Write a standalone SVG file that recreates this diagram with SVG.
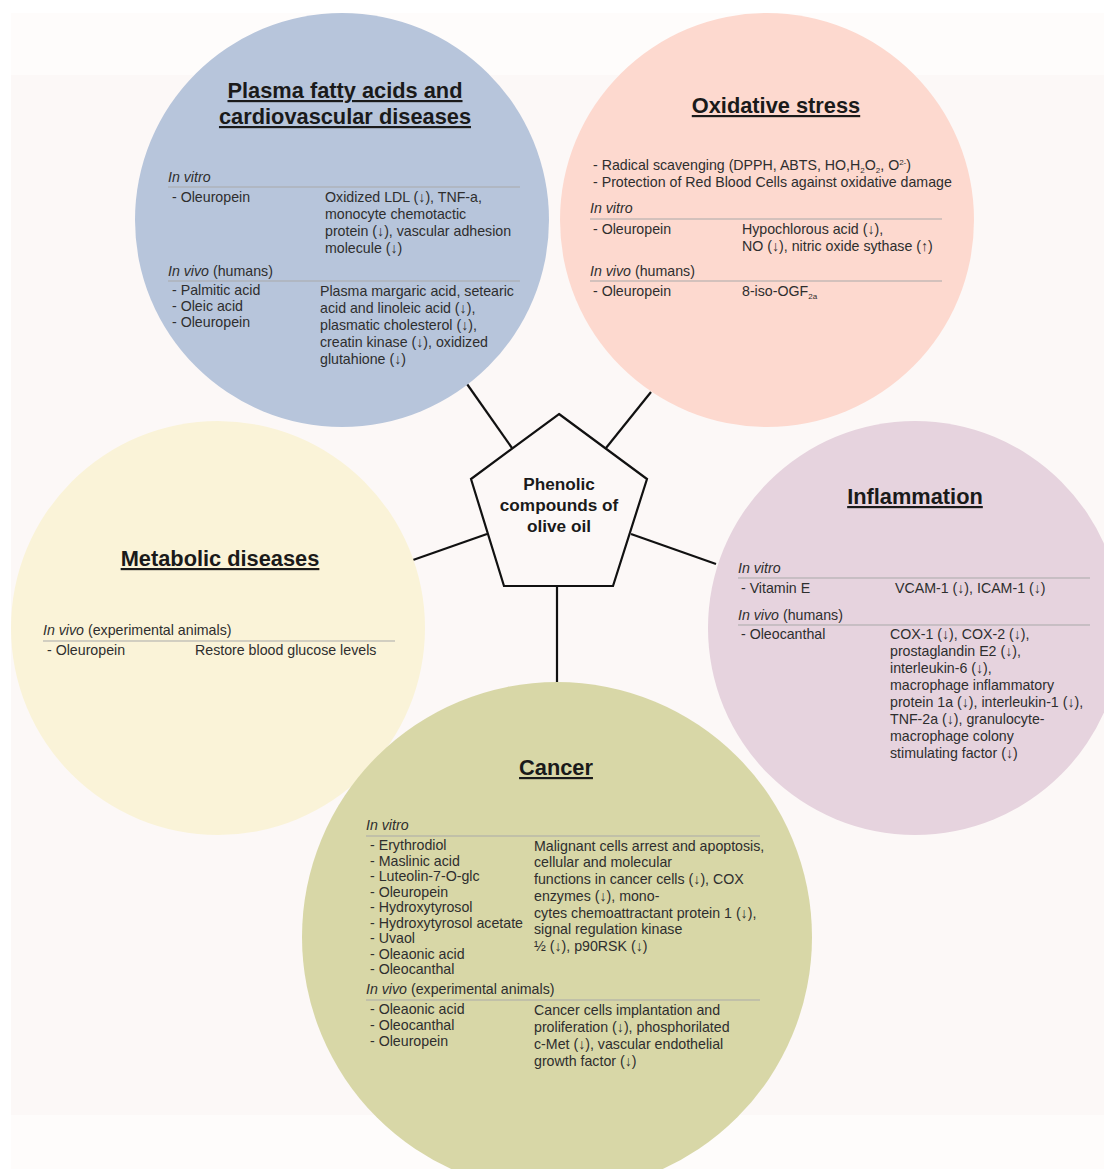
<svg xmlns="http://www.w3.org/2000/svg" width="1104" height="1169" viewBox="0 0 1104 1169">
<style>
text{font-family:"Liberation Sans",Arial,sans-serif;fill:#2e2e2e;font-size:14.2px}
.t{font-weight:bold;font-size:21.8px;fill:#1a1a1a;text-anchor:middle;text-decoration:underline}
.c{font-weight:bold;font-size:17.2px;fill:#1a1a1a;text-anchor:middle}
.i{font-style:italic}
.sep{stroke:#a9a9a9;stroke-width:1}
.con{stroke:#111;stroke-width:2.2;fill:none}
.sub{font-size:8px}
</style>
<rect x="0" y="0" width="1104" height="1169" fill="#ffffff"/>
<rect x="11" y="13" width="1093" height="1156" fill="#fefcfb"/>
<rect x="11" y="75" width="1093" height="1040" fill="#fcf8f7"/>

<g id="connectors">
<line class="con" x1="467" y1="384" x2="512" y2="448"/>
<line class="con" x1="651" y1="392" x2="606" y2="448"/>
<line class="con" x1="413" y1="560" x2="487" y2="534"/>
<line class="con" x1="631" y1="534" x2="716" y2="564"/>
<line class="con" x1="557" y1="586" x2="557" y2="682"/>
</g>

<g id="plasma">
<circle cx="342" cy="220" r="207" fill="#b7c5db"/>
<text class="t" x="345" y="98">Plasma fatty acids and</text>
<text class="t" x="345" y="124">cardiovascular diseases</text>
<text class="i" x="168" y="182">In vitro</text>
<line class="sep" x1="168" y1="187" x2="520" y2="187"/>
<text x="172" y="202">- Oleuropein</text>
<text x="325" y="202">Oxidized LDL (↓), TNF-a,</text>
<text x="325" y="219">monocyte chemotactic</text>
<text x="325" y="236">protein (↓), vascular adhesion</text>
<text x="325" y="253">molecule (↓)</text>
<text x="168" y="276"><tspan class="i">In vivo</tspan> (humans)</text>
<line class="sep" x1="168" y1="281" x2="520" y2="281"/>
<text x="172" y="295">- Palmitic acid</text>
<text x="172" y="311">- Oleic acid</text>
<text x="172" y="327">- Oleuropein</text>
<text x="320" y="296">Plasma margaric acid,  setearic</text>
<text x="320" y="313">acid and linoleic acid (↓),</text>
<text x="320" y="330">plasmatic cholesterol (↓),</text>
<text x="320" y="347">creatin kinase (↓), oxidized</text>
<text x="320" y="364">glutahione (↓)</text>
</g>

<g id="oxidative">
<circle cx="767" cy="220" r="207" fill="#fdd9cf"/>
<text class="t" x="776" y="113">Oxidative stress</text>
<text x="593" y="170">- Radical scavenging (DPPH, ABTS, HO,H<tspan class="sub" dy="3">2</tspan><tspan dy="-3">O</tspan><tspan class="sub" dy="3">2</tspan><tspan dy="-3">, O</tspan><tspan class="sub" dy="-5">2-</tspan><tspan dy="5">)</tspan></text>
<text x="593" y="187">- Protection of Red Blood Cells against oxidative damage</text>
<text class="i" x="590" y="213">In vitro</text>
<line class="sep" x1="590" y1="219" x2="942" y2="219"/>
<text x="593" y="234">- Oleuropein</text>
<text x="742" y="234">Hypochlorous acid (↓),</text>
<text x="742" y="251">NO (↓),  nitric oxide sythase (↑)</text>
<text x="590" y="276"><tspan class="i">In vivo</tspan> (humans)</text>
<line class="sep" x1="590" y1="281" x2="942" y2="281"/>
<text x="593" y="296">- Oleuropein</text>
<text x="742" y="296">8-iso-OGF<tspan class="sub" dy="3">2a</tspan></text>
</g>

<g id="metabolic">
<circle cx="218" cy="628" r="207" fill="#faf3d8"/>
<text class="t" x="220" y="566">Metabolic diseases</text>
<text x="43" y="635"><tspan class="i">In vivo</tspan> (experimental animals)</text>
<line class="sep" x1="43" y1="641" x2="395" y2="641"/>
<text x="47" y="655">- Oleuropein</text>
<text x="195" y="655">Restore blood glucose levels</text>
</g>

<g id="inflammation">
<circle cx="915" cy="628" r="207" fill="#e6d3de"/>
<text class="t" x="915" y="504">Inflammation</text>
<text class="i" x="738" y="573">In vitro</text>
<line class="sep" x1="738" y1="578" x2="1090" y2="578"/>
<text x="741" y="593">- Vitamin E</text>
<text x="895" y="593">VCAM-1 (↓), ICAM-1 (↓)</text>
<text x="738" y="620"><tspan class="i">In vivo</tspan> (humans)</text>
<line class="sep" x1="738" y1="625" x2="1090" y2="625"/>
<text x="741" y="639">- Oleocanthal</text>
<text x="890" y="639">COX-1 (↓), COX-2 (↓),</text>
<text x="890" y="656">prostaglandin E2 (↓),</text>
<text x="890" y="673">interleukin-6 (↓),</text>
<text x="890" y="690">macrophage inflammatory</text>
<text x="890" y="707">protein 1a (↓), interleukin-1 (↓),</text>
<text x="890" y="724">TNF-2a (↓), granulocyte-</text>
<text x="890" y="741">macrophage colony</text>
<text x="890" y="758">stimulating factor (↓)</text>
</g>

<g id="cancer">
<circle cx="557" cy="937" r="255" fill="#d8d7a7"/>
<text class="t" x="556" y="775">Cancer</text>
<text class="i" x="366" y="830">In vitro</text>
<line class="sep" x1="366" y1="836" x2="760" y2="836"/>
<text x="370" y="850">- Erythrodiol</text>
<text x="370" y="866">- Maslinic acid</text>
<text x="370" y="881">- Luteolin-7-O-glc</text>
<text x="370" y="897">- Oleuropein</text>
<text x="370" y="912">- Hydroxytyrosol</text>
<text x="370" y="928">- Hydroxytyrosol acetate</text>
<text x="370" y="943">- Uvaol</text>
<text x="370" y="959">- Oleaonic acid</text>
<text x="370" y="974">- Oleocanthal</text>
<text x="534" y="851">Malignant cells arrest and apoptosis,</text>
<text x="534" y="867">cellular and molecular</text>
<text x="534" y="884">functions in cancer cells (↓), COX</text>
<text x="534" y="901">enzymes (↓), mono-</text>
<text x="534" y="918">cytes chemoattractant protein 1 (↓),</text>
<text x="534" y="934">signal regulation kinase</text>
<text x="534" y="951">½ (↓), p90RSK (↓)</text>
<text x="366" y="994"><tspan class="i">In vivo</tspan> (experimental animals)</text>
<line class="sep" x1="366" y1="1000" x2="760" y2="1000"/>
<text x="370" y="1014">- Oleaonic acid</text>
<text x="370" y="1030">- Oleocanthal</text>
<text x="370" y="1046">- Oleuropein</text>
<text x="534" y="1015">Cancer cells implantation and</text>
<text x="534" y="1032">proliferation (↓), phosphorilated</text>
<text x="534" y="1049">c-Met (↓), vascular endothelial</text>
<text x="534" y="1066">growth factor (↓)</text>
</g>

<g id="center">
<polygon points="559,414 647,479 613,586 504,586 471,479" fill="#fcf8f7" stroke="#111" stroke-width="2.2" stroke-linejoin="miter"/>
<text class="c" x="559" y="490">Phenolic</text>
<text class="c" x="559" y="511">compounds of</text>
<text class="c" x="559" y="532">olive oil</text>
</g>
</svg>
